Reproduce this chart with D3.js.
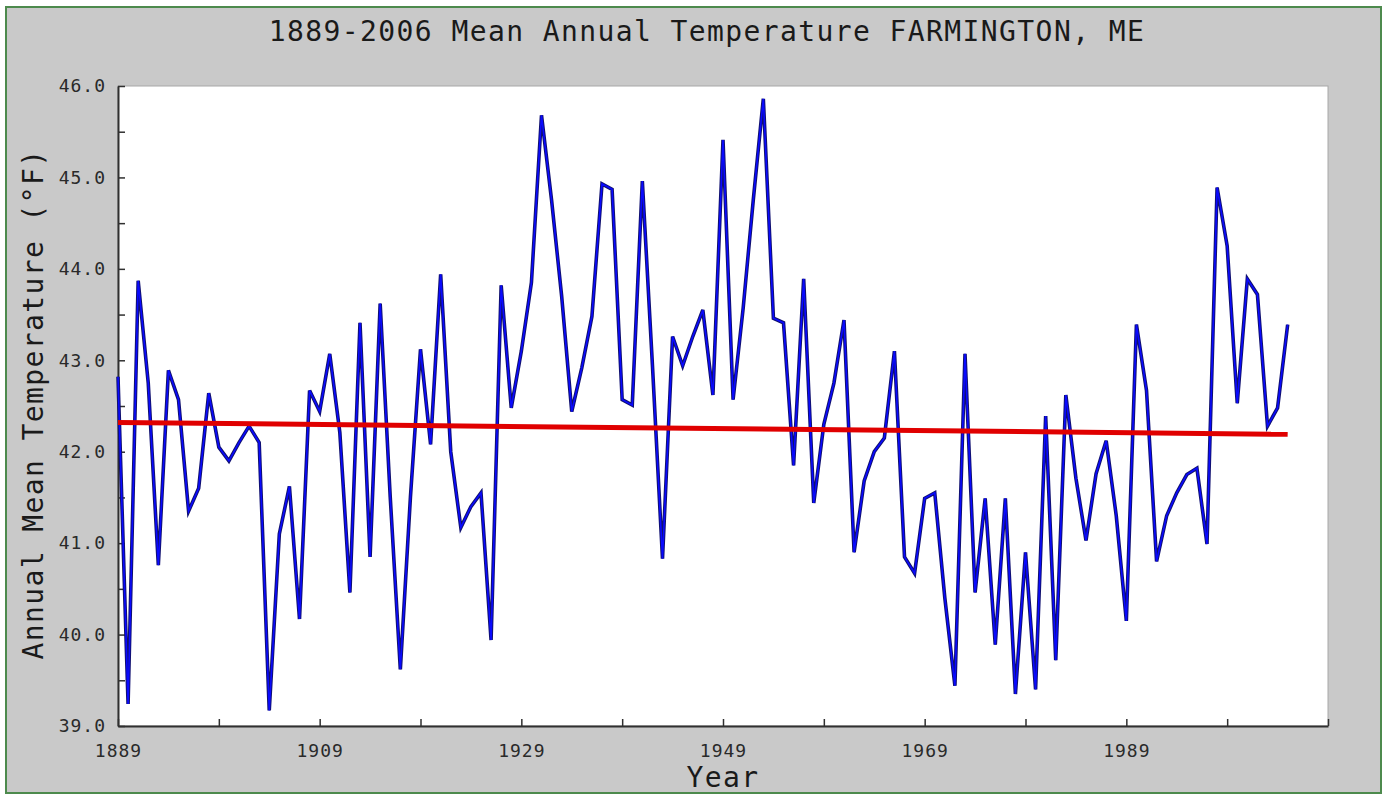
<!DOCTYPE html>
<html><head><meta charset="utf-8">
<script src="https://cdn.jsdelivr.net/npm/d3@7/dist/d3.min.js"></script>
<style>body{margin:0;background:#fff;} svg{display:block}</style>
</head><body>
<svg id="c" width="1388" height="797"></svg>
<script>
// ---- data ----
const firstYear = 1889;
const temps = [
  42.82, 39.24, 43.87, 42.75, 40.76, 42.89, 42.57, 41.35, 41.60, 42.64, // 1889-1898
  42.05, 41.90, 42.10, 42.28, 42.10, 39.17, 41.10, 41.62, 40.17, 42.67, // 1899-1908
  42.44, 43.07, 42.21, 40.46, 43.41, 40.85, 43.62, 41.50, 39.62, 41.50, // 1909-1918
  43.12, 42.08, 43.94, 42.00, 41.17, 41.40, 41.55, 39.94, 43.82, 42.48, // 1919-1928
  43.10, 43.85, 45.68, 44.75, 43.70, 42.44, 42.92, 43.48, 44.93, 44.87, // 1929-1938
  42.57, 42.51, 44.96, 42.95, 40.83, 43.26, 42.94, 43.26, 43.55, 42.62, // 1939-1948
  45.41, 42.57, 43.57, 44.75, 45.86, 43.46, 43.41, 41.85, 43.89, 41.44, // 1949-1958
  42.30, 42.75, 43.44, 40.90, 41.68, 42.00, 42.15, 43.10, 40.85, 40.67, // 1959-1968
  41.49, 41.55, 40.40, 39.44, 43.07, 40.46, 41.49, 39.89, 41.49, 39.35, // 1969-1978
  40.90, 39.40, 42.39, 39.72, 42.62, 41.71, 41.03, 41.76, 42.12, 41.30, // 1979-1988
  40.15, 43.39, 42.67, 40.80, 41.30, 41.55, 41.75, 41.82, 40.99, 44.89, // 1989-1998
  44.25, 42.53, 43.89, 43.72, 42.28, 42.48, 43.39                       // 1999-2005
];
const years = temps.map((_, i) => firstYear + i);
const trendYears = [1889, 2005];
const trendValues = [42.32, 42.19];
const yTickValues = [39, 39.5, 40, 40.5, 41, 41.5, 42, 42.5, 43, 43.5, 44, 44.5, 45, 45.5, 46];
const yTickLabels = [39, 40, 41, 42, 43, 44, 45, 46];
const xTickValues = [1889, 1899, 1909, 1919, 1929, 1939, 1949, 1959, 1969, 1979, 1989, 1999, 2009];
const xTickLabels = [1889, 1909, 1929, 1949, 1969, 1989];
const titleText = "1889-2006 Mean Annual Temperature FARMINGTON, ME";
const xTitle = "Year";
const yTitle = "Annual Mean Temperature (°F)";

// ---- drawing ----
const svg = d3.select("#c");
const mono = "'DejaVu Sans Mono', 'Liberation Mono', monospace";
const L = 118, R = 1328, T = 86, B = 726;

svg.append("rect").attr("x", 6).attr("y", 7).attr("width", 1375).attr("height", 786)
  .attr("fill", "#c9c9c9").attr("stroke", "#4d8a4d").attr("stroke-width", 2);

const x = d3.scaleLinear().domain([1889, 2009]).range([L, R]);
const y = d3.scaleLinear().domain([39, 46]).range([B, T]);

svg.append("rect").attr("x", L).attr("y", T).attr("width", R - L).attr("height", B - T)
  .attr("fill", "#ffffff").attr("stroke", "#a8a8a8").attr("stroke-width", 1);

// axes
const yAxis = d3.axisLeft(y).tickValues(yTickValues).tickSizeInner(-7).tickSizeOuter(0).tickPadding(12)
  .tickFormat(d => yTickLabels.includes(d) ? d3.format(".1f")(d) : "");
const gy = svg.append("g").attr("transform", `translate(${L},0)`).call(yAxis);
const xAxis = d3.axisBottom(x).tickValues(xTickValues).tickSizeInner(-7).tickSizeOuter(0).tickPadding(18)
  .tickFormat(d => xTickLabels.includes(d) ? String(d) : "");
const gx = svg.append("g").attr("transform", `translate(0,${B})`).call(xAxis);

[gx, gy].forEach(g => {
  g.select(".domain").attr("stroke", "#303030").attr("stroke-width", 2);
  g.selectAll(".tick line").attr("stroke", "#303030").attr("stroke-width", 1.5);
  g.selectAll(".tick text").attr("fill", "#2a2a2a").style("font-family", mono)
    .style("font-size", "18px").style("letter-spacing", "1px");
});

// data line
const line = d3.line().x((d, i) => x(years[i])).y(d => y(d));
svg.append("path").datum(temps).attr("d", line).attr("fill", "none")
  .attr("stroke", "#101070").attr("stroke-width", 3.6).attr("stroke-linejoin", "miter");
svg.append("path").datum(temps).attr("d", line).attr("fill", "none")
  .attr("stroke", "#0a0aff").attr("stroke-width", 1.6);

// trend line
const tline = d3.line().x((d, i) => x(trendYears[i])).y(d => y(d));
svg.append("path").datum(trendValues).attr("d", tline).attr("fill", "none")
  .attr("stroke", "#e00000").attr("stroke-width", 5);

// titles
svg.append("text").attr("x", 707).attr("y", 41).attr("text-anchor", "middle")
  .style("font-family", mono).style("font-size", "28px").style("letter-spacing", "1.4px")
  .attr("fill", "#1a1a1a").text(titleText);
svg.append("text").attr("x", 723).attr("y", 787).attr("text-anchor", "middle")
  .style("font-family", mono).style("font-size", "28px").style("letter-spacing", "1.4px")
  .attr("fill", "#1a1a1a").text(xTitle);
svg.append("text").attr("transform", "translate(43,404) rotate(-90)").attr("text-anchor", "middle")
  .style("font-family", mono).style("font-size", "28px").style("letter-spacing", "1.4px")
  .attr("fill", "#1a1a1a").text(yTitle);
</script>
</body></html>
